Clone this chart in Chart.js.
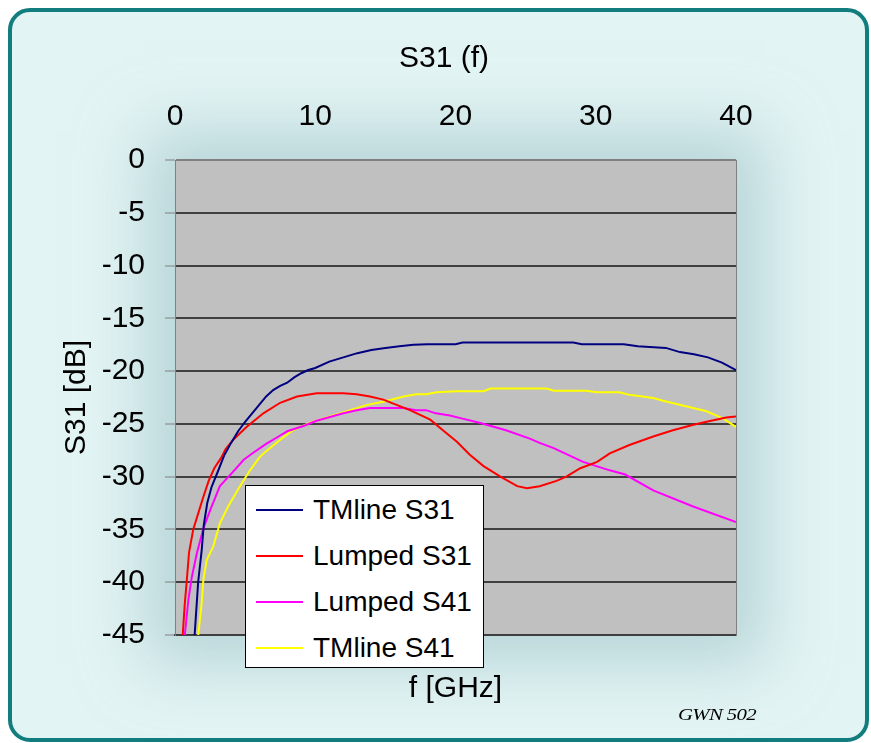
<!DOCTYPE html>
<html>
<head>
<meta charset="utf-8">
<script src="https://cdn.jsdelivr.net/npm/chart.js@4"></script>
<style>
  html, body { margin: 0; padding: 0; background: #ffffff; overflow: hidden; }
  #frame {
    position: absolute; left: 8px; top: 8px; width: 861px; height: 734px;
    box-sizing: border-box; border: 4px solid #127d7e; border-radius: 22px;
    background: #e3f4f4;
  }
  #glow {
    position: absolute; left: 175px; top: 160px; width: 561px; height: 475px;
    box-shadow: 0 0 60px 30px rgba(150, 190, 195, 0.55);
    background: rgba(150, 190, 195, 0.55);
  }
  #wrap { position: absolute; left: 0; top: 0; width: 871px; height: 743px; }
  #legend {
    position: absolute; left: 245px; top: 485px; width: 239px; height: 183px;
    box-sizing: border-box; border: 1px solid #000; background: #fff;
    padding-top: 1px;
    font-family: "Liberation Sans", Arial, sans-serif; font-size: 28px; color: #000;
  }
  #legend .row { display: flex; align-items: center; height: 46px; }
  #legend .swatch { width: 47px; height: 2px; margin-left: 10px; margin-right: 10px; }
  #stamp {
    position: absolute; left: 678px; top: 706px;
    font-family: "Liberation Serif", "Times New Roman", serif; font-style: italic;
    font-size: 16px; letter-spacing: -0.5px; color: #000;
    transform: scaleX(1.3); transform-origin: left center;
  }
</style>
</head>
<body>
<div id="frame"></div>
<div id="glow"></div>
<div id="wrap"><canvas id="chart"></canvas></div>
<div id="legend"></div>
<div id="stamp">GWN 502</div>
<script>
// frequency in GHz, level in dB
const tmS31Freq = [1.4, 1.65, 1.9, 2.05, 2.3, 2.6, 3, 3.5, 4, 4.5, 5, 5.5, 6, 6.5, 7, 7.5, 8, 8.5, 9, 9.5, 10, 11, 12, 13, 14, 15, 16, 17, 18, 20, 20.5, 28.4, 29, 32, 33, 35, 36, 37, 38, 39, 40];
const tmS31Db = [-45, -40, -37, -34.6, -32.5, -31, -29.7, -28, -26.8, -25.7, -24.8, -24, -23.2, -22.4, -21.8, -21.4, -21.1, -20.6, -20.2, -19.9, -19.7, -19.1, -18.7, -18.3, -18, -17.8, -17.65, -17.5, -17.45, -17.45, -17.3, -17.3, -17.45, -17.45, -17.65, -17.8, -18.2, -18.4, -18.7, -19.2, -19.9];

const lumS31Freq = [0.55, 0.7, 0.83, 1.0, 1.3, 1.65, 2.0, 2.4, 2.8, 3.3, 3.6, 4.15, 5.1, 6.3, 7.5, 8.7, 10.1, 12, 12.95, 13.9, 14.85, 16.75, 18.2, 19.1, 20.1, 21, 22, 23.2, 24.4, 25.1, 26, 27.2, 27.9, 28.9, 30.1, 31, 32.4, 34.1, 35.5, 36.9, 37.9, 39.3, 40];
const lumS31Db = [-45, -42, -40, -37.2, -35, -33.5, -32, -30.4, -29.2, -28.2, -27.4, -26.5, -25.3, -24, -23, -22.4, -22.1, -22.1, -22.2, -22.4, -22.7, -23.7, -24.6, -25.6, -26.7, -27.9, -29, -30, -30.9, -31.1, -30.9, -30.4, -30, -29.2, -28.6, -27.8, -27, -26.2, -25.6, -25.1, -24.8, -24.4, -24.3];

const lumS41Freq = [0.7, 0.95, 1.2, 1.55, 2.0, 2.5, 3.2, 4.1, 4.9, 5.5, 6.5, 7.5, 8, 9.15, 10.1, 12, 12.95, 13.9, 16.3, 17.2, 17.9, 18.6, 19.6, 20.5, 21.7, 23.6, 25.3, 26, 27, 29.1, 31, 32.1, 34.1, 36.9, 40];
const lumS41Db = [-45, -41.7, -39.5, -37.3, -35, -33.2, -30.9, -29.6, -28.4, -27.8, -26.9, -26.1, -25.7, -25.2, -24.7, -24, -23.7, -23.5, -23.5, -23.7, -23.7, -24, -24.2, -24.5, -24.9, -25.6, -26.4, -26.8, -27.3, -28.6, -29.4, -29.8, -31.3, -32.8, -34.3];

const tmS41Freq = [1.66, 1.9, 2.02, 2.26, 2.73, 3.2, 3.8, 4.63, 5.35, 6.06, 6.5, 7.5, 8.4, 9.6, 11.05, 12.5, 13.7, 14.85, 16.3, 17.2, 17.9, 18.65, 20.1, 22, 22.5, 26.5, 27, 29.3, 30.1, 31.7, 32.4, 34.1, 34.8, 36.5, 37.9, 39.1, 40];
const tmS41Db = [-45, -42, -39.8, -37.9, -36.6, -34.4, -32.8, -30.9, -29.4, -28.1, -27.6, -26.5, -25.6, -24.9, -24.3, -23.7, -23.2, -22.9, -22.4, -22.2, -22.2, -22, -21.9, -21.9, -21.65, -21.65, -21.85, -21.85, -22, -22, -22.25, -22.55, -22.8, -23.35, -23.8, -24.5, -25.3];

const seriesNames = ["TMline S31", "Lumped S31", "Lumped S41", "TMline S41"];
const seriesColors = ["#000080", "#ff0000", "#ff00ff", "#ffff00"];
const xTicks = [0, 10, 20, 30, 40];
const yTicks = [0, -5, -10, -15, -20, -25, -30, -35, -40, -45];

const pts = (xs, ys) => xs.map((x, i) => ({ x: x, y: ys[i] }));
const seriesData = [
  pts(tmS31Freq, tmS31Db),
  pts(lumS31Freq, lumS31Db),
  pts(lumS41Freq, lumS41Db),
  pts(tmS41Freq, tmS41Db),
];

const font = { family: "'Liberation Sans', Arial, sans-serif", size: 30, weight: "normal" };

// grey plot area
const plotBg = {
  id: "plotBg",
  beforeDraw(chart) {
    const { ctx, chartArea: a } = chart;
    ctx.save();
    ctx.fillStyle = "#c0c0c0";
    ctx.fillRect(a.left, a.top, a.right - a.left, a.bottom - a.top);
    ctx.restore();
  },
};

const ctx = document.getElementById("chart");
window.s31Chart = new Chart(ctx, {
  type: "line",
  data: {
    datasets: seriesNames.map((name, i) => ({
      label: name,
      data: seriesData[i],
      borderColor: seriesColors[i],
      borderWidth: 2,
      pointRadius: 0,
      tension: 0,
      fill: false,
      xAxisID: "x",
      yAxisID: "y",
    })),
  },
  options: {
    responsive: true,
    maintainAspectRatio: false,
    animation: false,
    layout: { padding: { left: 17, right: 0, top: 0, bottom: 0 } },
    plugins: {
      legend: { display: false },
      tooltip: { enabled: false },
      title: {
        display: true,
        text: "S31 (f)",
        color: "#000",
        font: font,
        padding: { top: 41, bottom: 0 },
      },
    },
    scales: {
      x: {
        type: "linear",
        position: "top",
        min: 0,
        max: 40,
        afterBuildTicks: (s) => { s.ticks = xTicks.map((v) => ({ value: v })); },
        ticks: { font: font, color: "#000", padding: 17, maxRotation: 0 },
        grid: { display: false },
        border: { display: true, color: "#808080", width: 1 },
        afterFit: (s) => { s.height = 83; },
      },
      xb: {
        type: "linear",
        position: "bottom",
        min: 0,
        max: 40,
        ticks: { display: false },
        grid: { display: false },
        border: { display: true, color: "#404040", width: 2 },
        title: { display: true, text: "f [GHz]", color: "#000", font: font, padding: { top: 0, bottom: 36 } },
        afterFit: (s) => { s.height = 108; },
      },
      y: {
        type: "linear",
        position: "left",
        min: -45,
        max: 0,
        afterBuildTicks: (s) => { s.ticks = yTicks.map((v) => ({ value: v })); },
        ticks: { font: font, color: "#000", padding: 20 },
        grid: {
          color: (c) => (c.tick && c.tick.value === 0 ? "#808080" : "#404040"),
          lineWidth: 2,
          tickLength: 10,
          tickColor: "#808080",
          tickWidth: 1,
        },
        border: { display: true, color: "#808080", width: 1 },
        title: { display: true, text: "S31 [dB]", color: "#000", font: font, padding: { top: 42, bottom: 0 } },
        afterFit: (s) => { s.width = 158; },
      },
      yr: {
        type: "linear",
        position: "right",
        min: -45,
        max: 0,
        ticks: { display: false },
        grid: { display: false },
        border: { display: true, color: "#808080", width: 1 },
        afterFit: (s) => { s.width = 135; },
      },
    },
  },
  plugins: [plotBg],
});

// legend box drawn as html over the plot
const legendBox = document.getElementById("legend");
seriesNames.forEach((name, i) => {
  const row = document.createElement("div");
  row.className = "row";
  const sw = document.createElement("div");
  sw.className = "swatch";
  sw.style.background = seriesColors[i];
  const label = document.createElement("span");
  label.textContent = name;
  row.appendChild(sw);
  row.appendChild(label);
  legendBox.appendChild(row);
});
</script>
</body>
</html>
